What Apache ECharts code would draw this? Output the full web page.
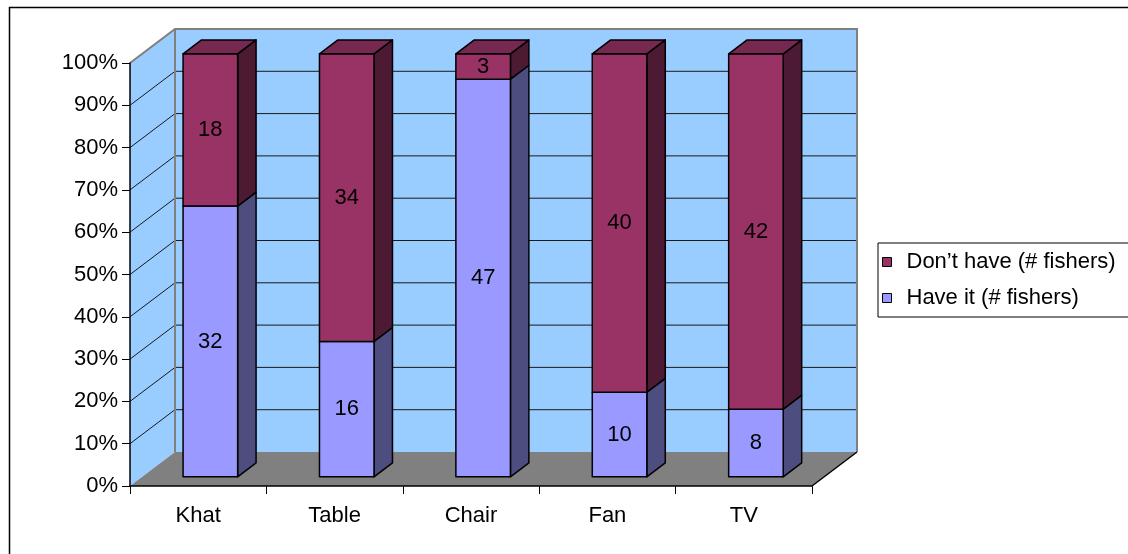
<!DOCTYPE html>
<html>
<head>
<meta charset="utf-8">
<script src="https://cdn.jsdelivr.net/npm/echarts@6/dist/echarts.min.js"></script>
<style>
  html, body { margin: 0; padding: 0; background: #fff; }
  #chart { width: 1128px; height: 554px; }
</style>
</head>
<body>
<div id="chart"></div>
<script>
// Household items owned by fishers (counts), shown as 100% stacked 3D columns
const categories = ['Khat', 'Table', 'Chair', 'Fan', 'TV'];
const haveIt = [32, 16, 47, 10, 8];
const dontHave = [18, 34, 3, 40, 42];
const seriesNames = ['Don\u2019t have (# fishers)', 'Have it (# fishers)'];

const FONT = '"Liberation Sans", Arial, sans-serif';
// depth of the plot box in pixels (x shift, y shift toward the back)
const DX = 45, DY = 34;
// bar sits between these depth fractions
const D0 = 0.27, D1 = 0.68;
const BAR_HALF = 0.2; // half bar width as fraction of category band

const palette = {
  have: { front: '#9999FF', side: '#4D4D80', top: '#7A7ACC' },
  dont: { front: '#993366', side: '#4D1A33', top: '#772851' }
};

// stacked percentage ranges per category
const haveData = [], dontData = [];
categories.forEach((c, i) => {
  const total = haveIt[i] + dontHave[i];
  const hp = haveIt[i] / total * 100;
  haveData.push([i, 0, hp, haveIt[i], 0]);
  dontData.push([i, hp, 100, dontHave[i], 1]);
});

function renderWalls(params, api) {
  const bw = api.size([1, 0])[0];
  const x0 = api.coord([0, 0])[0] - bw / 2;
  const x1 = api.coord([categories.length - 1, 0])[0] + bw / 2;
  const yB = api.coord([0, 0])[1];
  const yT = api.coord([0, 100])[1];
  const children = [];
  const wall = '#99CCFF', edge = '#808080';
  // left wall
  children.push({ type: 'polygon', shape: { points: [[x0, yB], [x0, yT], [x0 + DX, yT - DY], [x0 + DX, yB - DY]] },
    style: { fill: wall, stroke: null } });
  // back wall
  children.push({ type: 'rect', shape: { x: x0 + DX, y: yT - DY, width: x1 - x0, height: yB - yT },
    style: { fill: wall, stroke: null } });
  // gridlines
  for (let v = 10; v < 100; v += 10) {
    const y = api.coord([0, v])[1];
    children.push({ type: 'polyline', shape: { points: [[x0, y], [x0 + DX, y - DY], [x1 + DX, y - DY]] },
      style: { stroke: '#1a1a1a', lineWidth: 1, fill: null } });
  }
  // wall edges
  children.push({ type: 'polyline', shape: { points: [[x0, yT], [x0 + DX, yT - DY], [x1 + DX, yT - DY], [x1 + DX, yB - DY]] },
    style: { stroke: edge, lineWidth: 2, fill: null } });
  children.push({ type: 'line', shape: { x1: x0 + DX, y1: yT - DY, x2: x0 + DX, y2: yB - DY },
    style: { stroke: edge, lineWidth: 2 } });
  // floor
  children.push({ type: 'polygon', shape: { points: [[x0, yB], [x1, yB], [x1 + DX, yB - DY], [x0 + DX, yB - DY]] },
    style: { fill: '#808080', stroke: null } });
  children.push({ type: 'line', shape: { x1: x1, y1: yB, x2: x1 + DX, y2: yB - DY },
    style: { stroke: '#000', lineWidth: 1.5 } });
  return { type: 'group', children };
}

function makeBarRenderer(colors) {
  return function (params, api) {
    const cat = api.value(0), lo = api.value(1), hi = api.value(2), n = api.value(3), isTop = api.value(4);
    const bw = api.size([1, 0])[0];
    const cx = api.coord([cat, 0])[0] + D0 * DX;
    const xL = cx - bw * BAR_HALF, xR = cx + bw * BAR_HALF;
    const yLo = api.coord([cat, lo])[1] - D0 * DY;
    const yHi = api.coord([cat, hi])[1] - D0 * DY;
    const bx = (D1 - D0) * DX, by = (D1 - D0) * DY;
    const st = { stroke: '#000', lineWidth: 1.5, lineJoin: 'round' };
    const children = [
      { type: 'polygon', shape: { points: [[xR, yHi], [xR + bx, yHi - by], [xR + bx, yLo - by], [xR, yLo]] },
        style: Object.assign({ fill: colors.side }, st) },
      { type: 'rect', shape: { x: xL, y: yHi, width: xR - xL, height: yLo - yHi },
        style: Object.assign({ fill: colors.front }, st) }
    ];
    if (isTop) {
      children.push({ type: 'polygon', shape: { points: [[xL, yHi], [xL + bx, yHi - by], [xR + bx, yHi - by], [xR, yHi]] },
        style: Object.assign({ fill: colors.top }, st) });
    }
    children.push({ type: 'text', x: cx, y: (yHi + yLo) / 2,
      style: { text: String(n), fill: '#000', font: '22px ' + FONT, align: 'center', verticalAlign: 'middle' } });
    return { type: 'group', children };
  };
}

const chart = echarts.init(document.getElementById('chart'), null, { renderer: 'canvas' });
chart.setOption({
  animation: false,
  backgroundColor: '#fff',
  textStyle: { fontFamily: FONT },
  graphic: [{
    type: 'rect', left: 7, top: 5, z: -10,
    shape: { width: 1140, height: 570 },
    style: { fill: null, stroke: '#000', lineWidth: 1.5 }
  }],
  legend: {
    orient: 'vertical',
    left: 878, top: 243,
    data: seriesNames,
    icon: 'rect',
    itemWidth: 9, itemHeight: 9,
    itemGap: 14,
    padding: [8, 30, 8, 4],
    borderColor: '#000', borderWidth: 1,
    itemStyle: { borderColor: '#000', borderWidth: 1 },
    textStyle: { fontSize: 22, color: '#000', fontFamily: FONT, padding: [0, 0, 0, 10] }
  },
  grid: { left: 130, right: 316, top: 63, bottom: 68 },
  xAxis: {
    type: 'category', data: categories, z: 10,
    axisLine: { lineStyle: { color: '#000', width: 1.5 } },
    axisTick: { show: true, alignWithLabel: false, length: 8, lineStyle: { color: '#000' } },
    axisLabel: { fontSize: 22, color: '#000', margin: 19, fontFamily: FONT },
    splitLine: { show: false }
  },
  yAxis: {
    type: 'value', min: 0, max: 100, interval: 10, z: 10,
    axisLine: { show: true, lineStyle: { color: '#000', width: 1.5 } },
    axisTick: { show: true, length: 8, lineStyle: { color: '#000' } },
    axisLabel: { fontSize: 22, color: '#000', margin: 12, formatter: '{value}%', fontFamily: FONT },
    splitLine: { show: false }
  },
  series: [
    { type: 'custom', name: 'walls', z: 1, clip: false, silent: true,
      data: [[0, 0]], encode: { x: 0, y: 1 }, renderItem: renderWalls },
    { type: 'custom', name: seriesNames[1], z: 2, clip: false,
      itemStyle: { color: palette.have.front },
      data: haveData, encode: { x: 0, y: [1, 2] }, renderItem: makeBarRenderer(palette.have) },
    { type: 'custom', name: seriesNames[0], z: 2, clip: false,
      itemStyle: { color: palette.dont.front },
      data: dontData, encode: { x: 0, y: [1, 2] }, renderItem: makeBarRenderer(palette.dont) }
  ]
});
</script>
</body>
</html>
